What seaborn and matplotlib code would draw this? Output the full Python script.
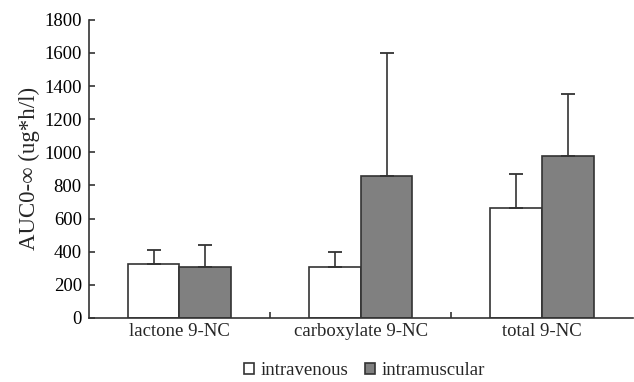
import numpy as np
import pandas as pd
import matplotlib.pyplot as plt
import seaborn as sns

# values
categories = ['lactone 9-NC', 'carboxylate 9-NC', 'total 9-NC']
routes = ['intravenous', 'intramuscular']
iv_mean = [325, 305, 665]
im_mean = [305, 855, 975]
iv_sd = [87, 95, 205]
im_sd = [135, 745, 380]

df = pd.DataFrame({
    'cat': categories * 2,
    'route': [routes[0]] * 3 + [routes[1]] * 3,
    'auc': iv_mean + im_mean,
})
sds = iv_sd + im_sd

sns.set_style('ticks')
plt.rcParams['font.family'] = ['Liberation Serif', 'DejaVu Serif']

fig, ax = plt.subplots(figsize=(6.34, 3.82), dpi=100)
sns.barplot(data=df, x='cat', y='auc', hue='route', order=categories,
            hue_order=routes, palette=['white', '#808080'], width=0.57,
            edgecolor='#333333', linewidth=1.2, errorbar=None, legend=True,
            ax=ax)

# upper SD error bars, centred on each bar
bars = [p for p in ax.patches if p.get_height() > 0][:6]
for p, sd in zip(bars, sds):
    xc = p.get_x() + p.get_width() / 2
    top = p.get_height()
    ax.errorbar(xc, top, yerr=[[0], [sd]], fmt='none', ecolor='#333333',
                elinewidth=1.2, capsize=4.7, capthick=1.3, zorder=3)

ax.set_xlim(-0.5, 2.5)
ax.set_ylim(0, 1800)
ax.set_yticks(range(0, 1801, 200))
ax.set_xlabel('')
ax.set_ylabel('AUC0-∞ (ug*h/l)', fontsize=16.5, labelpad=3)
ax.tick_params(axis='y', labelsize=13.5, direction='in', length=4.5, width=1.2,
               colors='#333333', labelcolor='black', pad=5)
ax.tick_params(axis='x', which='major', labelsize=13.5, length=0, pad=4)
ax.set_xticks([0.5, 1.5], minor=True)
ax.tick_params(axis='x', which='minor', direction='in', length=4.5, width=1.2,
               colors='#333333')
sns.despine(ax=ax, top=True, right=True)
for side in ['left', 'bottom']:
    ax.spines[side].set_color('#333333')
    ax.spines[side].set_linewidth(1.2)

handles, labels = ax.get_legend_handles_labels()
ax.get_legend().remove()
fig.legend(handles, labels, loc='center', bbox_to_anchor=(0.575, 0.03), ncol=2,
           frameon=False, fontsize=13.5, handlelength=0.55, handleheight=0.55,
           handletextpad=0.35, columnspacing=0.9, borderpad=0, borderaxespad=0)

fig.subplots_adjust(left=0.14, right=0.998, top=0.948, bottom=0.168)
fig.savefig('out.png', dpi=100)
